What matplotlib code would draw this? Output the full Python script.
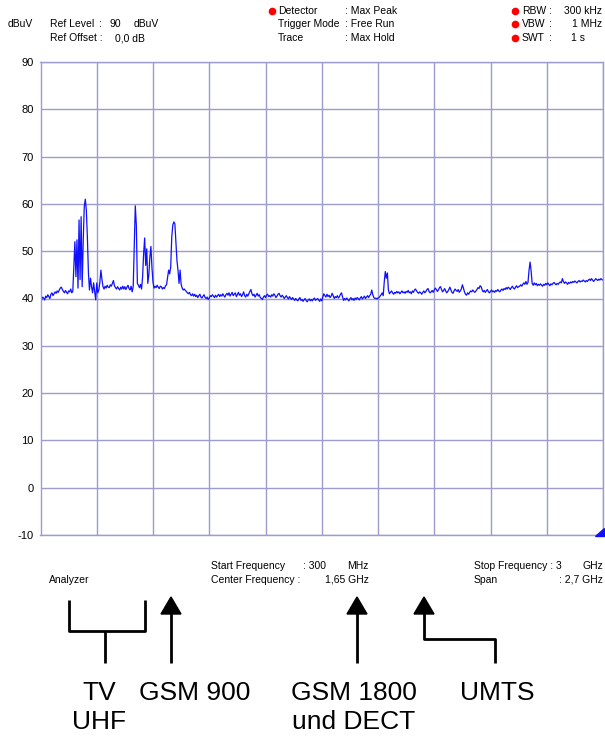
import numpy as np
import matplotlib
matplotlib.use("Agg")
from matplotlib import pyplot as plt
from matplotlib.patches import Polygon

plt.rcParams["font.family"] = ["Liberation Sans", "DejaVu Sans"]

# sweep settings (GHz)
start_ghz = 0.3
stop_ghz = 3.0
n_points = 541

# max-hold trace in dBuV, 5 MHz per value, 20 values per 100 MHz
level_dbuv = [
    40.0, 39.6, 40.3, 40.1, 39.7, 40.5, 40.2, 40.8, 40.4, 40.0, 40.9, 41.2, 40.6, 41.0, 41.4, 41.1, 41.6, 41.3, 41.8, 42.2,
    42.4, 41.9, 41.5, 41.2, 41.7, 41.3, 41.0, 41.6, 41.4, 42.0, 41.2, 41.5, 47.0, 52.0, 44.6, 52.4, 42.2, 56.6, 44.0, 57.3,
    42.5, 52.0, 59.4, 61.0, 58.7, 53.0, 45.5, 41.8, 44.3, 42.5, 41.2, 43.3, 41.5, 39.7, 43.3, 41.2, 41.8, 43.5, 46.0, 44.0,
    42.5, 42.0, 42.6, 42.2, 42.8, 42.4, 42.3, 42.9, 42.6, 43.2, 43.8, 42.7, 42.3, 42.0, 42.5, 42.1, 41.8, 42.4, 42.0, 42.6,
    42.0, 42.5, 41.9, 42.4, 42.8, 42.1, 41.8, 42.6, 41.4, 42.5, 51.0, 59.6, 55.5, 43.2, 42.8, 42.3, 43.0, 42.0, 44.5, 49.5,
    52.8, 47.0, 50.5, 43.2, 45.0, 48.8, 51.0, 46.5, 43.5, 42.2, 42.6, 42.3, 42.8, 42.4, 42.1, 42.6, 42.5, 42.0, 42.3, 42.1,
    42.7, 42.9, 44.5, 46.0, 45.2, 46.7, 53.0, 55.5, 56.2, 55.8, 51.7, 48.0, 46.0, 43.2, 46.0, 43.0, 42.2, 41.8, 42.0, 41.7,
    41.5, 41.2, 41.0, 41.3, 40.8, 40.6, 41.0, 40.5, 40.9, 40.4, 40.7, 40.2, 40.6, 40.9, 40.3, 40.1, 40.5, 40.8, 40.2, 40.0,
    40.3, 39.8, 40.1, 40.6, 40.4, 40.8, 40.5, 40.2, 40.7, 40.3, 40.6, 40.9, 40.4, 40.8, 40.5, 41.0, 40.6, 40.3, 40.8, 41.1,
    40.7, 41.2, 40.5, 40.9, 41.3, 40.6, 40.9, 41.2, 40.4, 40.8, 41.3, 40.7, 41.0, 40.4, 40.8, 41.4, 40.6, 40.3, 40.9, 40.5,
    41.0, 41.5, 41.9, 41.0, 40.6, 40.9, 40.3, 40.7, 41.1, 40.5, 40.8, 40.2, 40.0, 39.8, 40.3, 40.6, 40.2, 40.7, 40.9, 40.4,
    40.6, 40.3, 40.8, 40.5, 41.0, 40.7, 40.2, 40.5, 40.9, 41.1, 40.6, 40.3, 40.7, 40.4, 40.0, 40.3, 40.6, 40.2, 39.9, 40.4,
    40.1, 39.8, 40.2, 39.9, 39.6, 40.0, 39.7, 39.5, 39.9, 40.2, 39.6, 39.8, 39.4, 39.7, 40.0, 39.6, 39.3, 39.7, 39.9, 39.5,
    39.8, 39.5, 39.9, 40.1, 39.6, 39.8, 40.0, 39.7, 39.4, 39.9, 39.5, 40.3, 41.0, 40.6, 40.3, 40.9, 40.4, 40.7, 40.2, 40.5,
    41.1, 40.6, 40.0, 40.4, 40.2, 40.6, 40.1, 40.4, 40.9, 41.2, 40.3, 39.6, 40.0, 39.7, 40.1, 39.8, 39.5, 39.9, 40.2, 39.7,
    40.0, 39.6, 40.1, 39.8, 40.2, 40.0, 39.7, 40.1, 40.4, 39.9, 40.2, 40.5, 40.0, 40.3, 40.6, 40.2, 40.6, 40.9, 41.8, 40.8,
    40.2, 40.0, 40.1, 39.9, 40.1, 40.2, 40.5, 40.8, 41.2, 40.6, 43.5, 45.7, 44.3, 45.4, 41.8, 41.0, 41.3, 41.6, 41.2, 40.9,
    41.3, 41.1, 41.5, 41.2, 41.4, 41.0, 41.3, 41.6, 41.2, 41.4, 41.1, 41.5, 41.3, 41.7, 41.2, 41.4, 41.0, 41.6, 41.3, 41.8,
    42.0, 41.6, 41.3, 41.1, 41.4, 41.2, 40.9, 41.3, 41.6, 41.2, 41.5, 41.9, 42.1, 41.5, 41.2, 41.4, 41.7, 41.3, 41.8, 42.2,
    41.9, 41.5, 41.8, 42.3, 42.5, 41.9, 41.4, 41.7, 42.1, 41.6, 41.2, 41.5, 41.9, 42.4, 41.8, 41.3, 41.1, 41.6, 42.0, 41.7,
    41.5, 41.9, 41.3, 41.6, 42.0, 42.9, 42.2, 41.4, 40.9, 40.7, 41.2, 40.9, 41.3, 41.6, 41.4, 41.8, 41.5, 41.3, 41.6, 41.9,
    42.3, 42.1, 42.7, 42.5, 41.8, 41.4, 41.7, 41.3, 41.6, 41.9, 41.4, 41.2, 41.5, 41.8, 41.4, 41.6, 41.3, 41.7, 41.5, 41.9,
    41.6, 41.4, 41.8, 42.0, 41.7, 42.1, 41.9, 42.3, 42.0, 42.4, 42.2, 41.9, 42.3, 42.6, 42.2, 42.0, 42.4, 42.7, 42.3, 42.5,
    42.6, 42.9, 42.6, 43.0, 43.3, 43.0, 43.6, 43.0, 43.4, 46.0, 47.7, 45.8, 43.2, 42.8, 43.3, 42.9, 43.2, 42.7, 43.0, 42.8,
    43.1, 42.8, 42.6, 43.0, 42.8, 43.2, 42.9, 43.3, 43.0, 42.7, 43.1, 42.9, 43.2, 43.4, 43.1, 42.9, 43.2, 43.0, 43.3, 43.5,
    43.3, 44.2, 43.6, 43.2, 43.5, 43.3, 43.0, 43.4, 43.2, 43.5, 43.3, 43.6, 43.4, 43.7, 43.5, 43.3, 43.6, 43.8, 43.5, 43.7,
    43.6, 43.9, 43.7, 43.5, 43.8, 43.6, 43.9, 44.1, 43.8, 44.2, 43.9, 43.6, 43.9, 44.2, 44.0, 43.8, 44.1, 43.9, 44.2, 44.0,
    43.9,
]

y_ticks = [90, 80, 70, 60, 50, 40, 30, 20, 10, 0, -10]

band_labels = ["TV\nUHF", "GSM 900", "GSM 1800\nund DECT", "UMTS"]

W, H = 605, 737
grid_color = "#9c9ccf"

freq_ghz = np.linspace(start_ghz, stop_ghz, n_points)

fig = plt.figure(figsize=(W / 100, H / 100), dpi=100)
ax = fig.add_axes([40.5 / W, 1 - 535 / H, (603 - 40.5) / W, (535 - 62) / H])

ax.plot(freq_ghz, level_dbuv, color="#1010ff", lw=0.9)
ax.set_xlim(start_ghz, stop_ghz)
ax.set_ylim(-10, 90)
ax.set_xticks(np.linspace(start_ghz, stop_ghz, 11))
ax.set_xticklabels([])
ax.set_yticks(y_ticks)
ax.set_yticklabels([str(t) for t in y_ticks], fontsize=8)
ax.tick_params(length=0, pad=5)
ax.grid(True, color=grid_color, lw=1.0)
for sp in ax.spines.values():
    sp.set_color(grid_color)
    sp.set_linewidth(1.0)

# overlay in pixel coordinates for the instrument texts and the band markers
ov = fig.add_axes([0, 0, 1, 1])
ov.set_xlim(0, W)
ov.set_ylim(H, 0)
ov.axis("off")
ov.patch.set_alpha(0)

small = dict(fontsize=7.5, va="center", ha="left")


def txt(x, y, s, **kw):
    opts = dict(small)
    opts.update(kw)
    ov.text(x, y, s, **opts)


txt(8, 24, "dBuV")
txt(50, 24, "Ref Level")
txt(99, 24, ":")
txt(109, 24, "90")
txt(134, 24, "dBuV")
txt(50, 38, "Ref Offset :")
txt(115, 38, "0,0 dB")

for y, name, val in [(11, "Detector", "Max Peak"), (24, "Trigger Mode", "Free Run"), (38, "Trace", "Max Hold")]:
    txt(278, y, name)
    txt(345, y, ": " + val)

ov.plot([272, 515, 515, 515], [11, 11, 24, 38], "o", color="red", ms=4.5)
txt(522, 11, "RBW")
txt(522, 24, "VBW")
txt(522, 38, "SWT")
txt(549, 11, ":")
txt(549, 24, ":")
txt(549, 38, ":")
txt(602, 11, "300 kHz", ha="right")
txt(602, 24, "1 MHz", ha="right")
txt(571, 38, "1 s")

txt(211, 566, "Start Frequency")
txt(303, 566, ": 300")
txt(347, 566, "MHz")
txt(211, 580, "Center Frequency :")
txt(369, 580, "1,65 GHz", ha="right")
txt(474, 566, "Stop Frequency : 3")
txt(603, 566, "GHz", ha="right")
txt(474, 580, "Span")
txt(603, 580, ": 2,7 GHz", ha="right")
txt(49, 580, "Analyzer")

# corner marker of the trace
ov.add_patch(Polygon([(595, 536), (604, 536), (604, 528)], closed=True, color="#1010ff"))

# band markers
lk = dict(color="black", lw=2, solid_capstyle="butt")
ov.plot([69, 69, 145, 145], [600, 631, 631, 600], **lk)
ov.plot([105, 105], [631, 663], **lk)
for x in [171, 357, 424]:
    ov.add_patch(Polygon([(x - 10, 614), (x + 10, 614), (x, 597)], closed=True, color="black"))
ov.plot([171, 171], [612, 663], **lk)
ov.plot([357, 357], [612, 663], **lk)
ov.plot([424, 424, 495, 495], [612, 639, 639, 663], **lk)

# band names, one text per line
label_x = [99, 195, 354, 497]
for x, label in zip(label_x, band_labels):
    for i, line in enumerate(label.split("\n")):
        ov.text(x, 693 + 29 * i, line, fontsize=19, ha="center", va="center")

fig.savefig("out.png", dpi=100)
